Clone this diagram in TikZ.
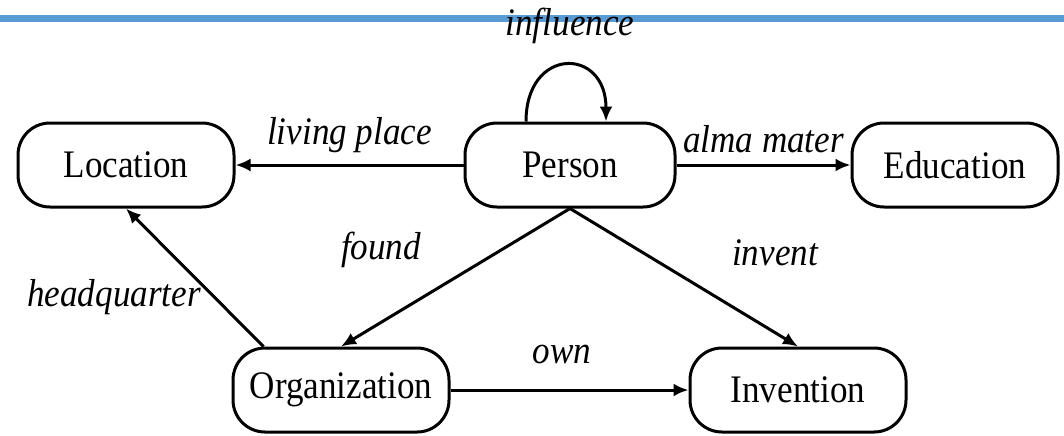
\documentclass[tikz,border=0pt]{standalone}
\usepackage{fontspec}
\setmainfont{Liberation Serif}[FakeStretch=0.9]
\usepackage{tikz}
\usetikzlibrary{arrows.meta,positioning,calc}
\definecolor{barblue}{HTML}{5B9BD5}

\begin{document}
\begin{tikzpicture}
[x=0.5pt,y=0.5pt,->,>={Latex[length=7.5pt,width=6.5pt]},line width=1.5pt,
font=\fontsize{19.5}{22}\selectfont,
entity/.style={draw,fill=white,rounded corners=16pt,
minimum width=108pt,minimum height=42pt,inner sep=0pt},
rel/.style={font=\fontsize{19.5}{22}\selectfont\itshape}]
\useasboundingbox (0,0) rectangle (1064,-435);
\draw[-,barblue,line width=3.3pt] (0,-18.5) -- (1064,-18.5);

\node (person) at (570,-165) [entity,minimum width=105pt] {Person};
\node (loc) at (126,-165) [entity] {Location};
\node (edu) at (955,-165) [entity,minimum width=103pt] {Education};
\node (org) at (341,-390) [entity] {Organization};
\node (inv) at (798,-390) [entity] {Invention};

\node (linfl) at (570,-26) [rel] {influence};
\node (lfound) at (381,-250) [rel] {found};
\node (linvent) at (775,-253) [rel] {invent};
\node (lhq) at (114,-297) [rel] {headquarter};
\node (lown) at (562,-354) [rel] {own};

\draw ([xshift=-22pt]person.north) .. controls +(0,75) and +(0,75) .. ([xshift=18pt]person.north);
\draw (person) -- node [rel,pos=0.5,above=2pt] {living place} (loc);
\draw (person) -- node [rel,pos=0.5,above=2pt] {alma mater} (edu);
\draw (person.south) -- (org.north);
\draw (person.south) -- (inv.north);
\draw ([xshift=16pt]org.north west) -- (loc.south);
\draw (org) -- (inv);

\end{tikzpicture}
\end{document}
